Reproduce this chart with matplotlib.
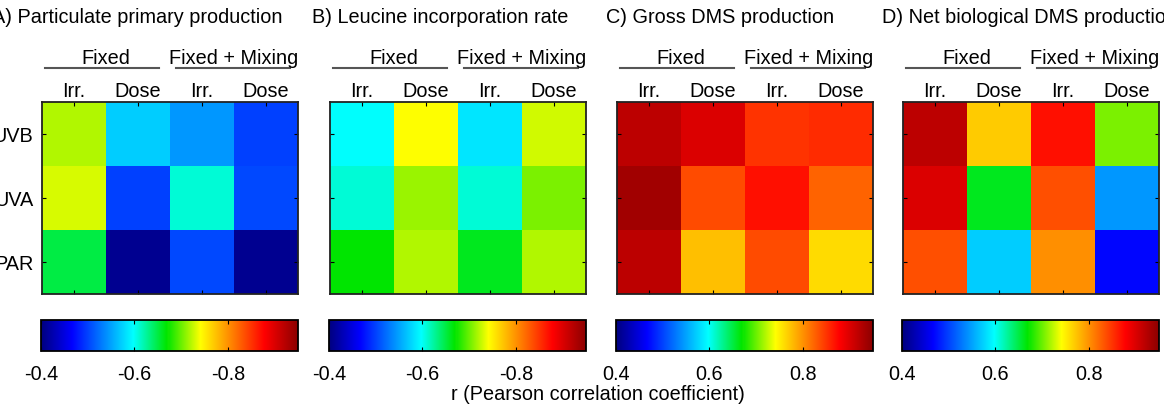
import numpy as np
import matplotlib.pyplot as plt
from matplotlib.colors import LinearSegmentedColormap

plt.rcParams['font.family'] = ['Liberation Sans', 'DejaVu Sans']

# data: r for each panel, rows UVB, UVA, PAR; cols Fixed Irr/Dose, Fixed+Mixing Irr/Dose
rows = ['UVB', 'UVA', 'PAR']
cols = ['Irr.', 'Dose', 'Irr.', 'Dose']
titles = ['A) Particulate primary production', 'B) Leucine incorporation rate',
          'C) Gross DMS production', 'D) Net biological DMS production']
r_ppp = [[-0.72, -0.572, -0.545, -0.50],
         [-0.73, -0.50, -0.609, -0.505],
         [-0.65, -0.41, -0.505, -0.41]]
r_leu = [[-0.598, -0.741, -0.585, -0.728],
         [-0.609, -0.712, -0.609, -0.705],
         [-0.67, -0.72, -0.66, -0.718]]
r_gross = [[0.918, 0.899, 0.851, 0.855],
           [0.937, 0.837, 0.87, 0.824],
           [0.918, 0.775, 0.837, 0.759]]
r_net = [[0.918, 0.768, 0.87, 0.705],
         [0.899, 0.66, 0.835, 0.545],
         [0.835, 0.572, 0.80, 0.47]]
cb_ticks = [0.4, 0.6, 0.8]
cb_labels_neg = ['-0.4', '-0.6', '-0.8']
cb_labels_pos = ['0.4', '0.6', '0.8']

# saturated jet-like map as in the original
jet2 = LinearSegmentedColormap.from_list('jet2', [
    (0.0, (0, 0, 0.5)), (0.12, (0, 0, 1)), (0.36, (0, 1, 1)), (0.49, (0, 0.9, 0)),
    (0.62, (1, 1, 0)), (0.87, (1, 0, 0)), (1.0, (0.55, 0, 0))])

W, H = 1164, 406
fig = plt.figure(figsize=(W/100, H/100), dpi=100)
fs = 14.3

def box(x0, y0, x1, y1):
    return [x0/W, 1 - y1/H, (x1 - x0)/W, (y1 - y0)/H]

lefts = [42, 330, 617, 903]
title_x = [-8, 312, 606, 882]
data = [r_ppp, r_leu, r_gross, r_net]

for i in range(4):
    L = lefts[i]
    ax = fig.add_axes(box(L, 103, L + 256, 295))
    vals = np.abs(np.array(data[i]))
    im = ax.imshow(vals, cmap=jet2, vmin=0.4, vmax=0.95, aspect='auto',
                   interpolation='nearest')
    ax.set_xticks(range(4))
    ax.set_yticks(range(3))
    ax.set_xticklabels([])
    if i == 0:
        ax.set_yticklabels(rows, fontsize=fs)
    else:
        ax.set_yticklabels([])
    ax.tick_params(direction='in', top=True, right=True, length=3, width=0.8, pad=6)
    for s in ax.spines.values():
        s.set_linewidth(1.3)
        s.set_color('#222222')

    tr = ax.get_xaxis_transform()
    ax.text(0.5, 1.203, 'Fixed', transform=tr, ha='center', va='baseline', fontsize=fs)
    ax.text(2.5, 1.203, 'Fixed + Mixing', transform=tr, ha='center', va='baseline', fontsize=fs)
    ax.plot([-0.45, 1.33], [1.177, 1.177], transform=tr, clip_on=False, color='#555555', lw=1.5)
    ax.plot([1.59, 3.375], [1.177, 1.177], transform=tr, clip_on=False, color='#555555', lw=1.5)
    for j, c in enumerate(cols):
        ax.text(j, 1.031, c, transform=tr, ha='center', va='baseline', fontsize=fs)

    fig.text(title_x[i]/W, 1 - 23/H, titles[i], ha='left', va='baseline', fontsize=fs)

    cax = fig.add_axes(box(L - 1, 321, L + 256, 352))
    cb = fig.colorbar(im, cax=cax, orientation='horizontal')
    cb.set_ticks(cb_ticks)
    cb.set_ticklabels(cb_labels_neg if i < 2 else cb_labels_pos)
    cax.tick_params(direction='in', top=True, length=3, width=0.8, labelsize=fs, pad=9)
    cb.outline.set_linewidth(1.3)

fig.text(598/W, 1 - 400/H, 'r (Pearson correlation coefficient)', ha='center', va='baseline',
         fontsize=fs)

plt.savefig('out.png', dpi=100)
